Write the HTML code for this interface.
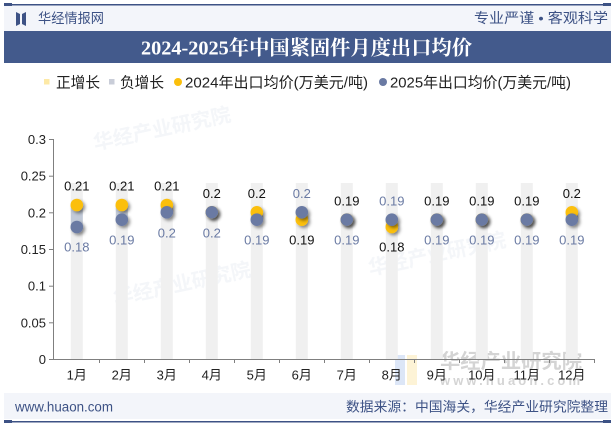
<!DOCTYPE html>
<html><head><meta charset="utf-8">
<style>
html,body{margin:0;padding:0;background:#fff;}
body{width:615px;height:427px;overflow:hidden;position:relative;font-family:"Liberation Sans","Noto Sans CJK SC",sans-serif;}
svg{position:absolute;left:0;top:0;}
</style></head><body>
<svg width="615" height="427" viewBox="0 0 615 427" xmlns="http://www.w3.org/2000/svg" font-family="Liberation Sans, Noto Sans CJK SC, sans-serif">
<defs>
<filter id="sh" x="-50%" y="-50%" width="200%" height="200%">
<feDropShadow dx="2" dy="2" stdDeviation="1.5" flood-color="#000" flood-opacity="0.45"/>
</filter>
</defs>
<!-- header -->
<rect x="4" y="4" width="607" height="27" fill="#f3f5fa"/>
<rect x="4" y="4" width="607" height="1.5" fill="#3d5285"/>
<rect x="4" y="3" width="8" height="3" fill="#3d5285"/>
<rect x="603" y="3" width="8" height="3" fill="#3d5285"/>
<path d="M16 12 L20 14 L20 24 L16 26 Z M26 12 L22 14 L22 24 L26 26 Z" fill="#3d5285"/>
<text x="38" y="23" font-size="13.5" fill="#3d5285" textLength="66" lengthAdjust="spacingAndGlyphs">华经情报网</text>
<text x="474" y="23" font-size="14" fill="#3d5285" textLength="134" lengthAdjust="spacingAndGlyphs">专业严谨 • 客观科学</text>
<rect x="4" y="31" width="607" height="32" fill="#435a8c"/>
<text x="141" y="54.5" font-size="20" font-weight="bold" fill="#fff" textLength="331" lengthAdjust="spacingAndGlyphs" font-family="Liberation Serif, Noto Serif CJK SC, serif">2024-2025年中国紧固件月度出口均价</text>
<!-- legend -->
<rect x="44" y="79" width="5.5" height="5.5" fill="#fde9a6"/>
<text x="56" y="87.5" font-size="15" fill="#222" textLength="44" lengthAdjust="spacingAndGlyphs">正增长</text>
<rect x="109" y="79" width="5.5" height="5.5" fill="#c9cdd8"/>
<text x="120" y="87.5" font-size="15" fill="#222" textLength="44" lengthAdjust="spacingAndGlyphs">负增长</text>
<circle cx="178" cy="82" r="4" fill="#fbbf0b"/>
<text x="185" y="87.5" font-size="15" fill="#222" textLength="183" lengthAdjust="spacingAndGlyphs">2024年出口均价(万美元/吨)</text>
<circle cx="383" cy="82" r="4" fill="#6a7aa3"/>
<text x="390" y="87.5" font-size="15" fill="#222" textLength="181" lengthAdjust="spacingAndGlyphs">2025年出口均价(万美元/吨)</text>
<!-- watermarks -->
<g opacity="0.5">
<text x="95" y="150" font-size="20" font-weight="bold" fill="#e8ecf2" transform="rotate(-12 95 150)">华经产业研究院</text>
<text x="115" y="305" font-size="20" font-weight="bold" fill="#e8ecf2" transform="rotate(-12 115 305)">华经产业研究院</text>
<text x="370" y="275" font-size="20" font-weight="bold" fill="#e8ecf2" transform="rotate(-12 370 275)">华经产业研究院</text>
</g>
<rect x="395" y="355" width="10" height="30" fill="#dce6f7"/>
<rect x="407" y="355" width="10" height="30" fill="#fdf3d6"/>
<text x="440" y="368" font-size="20" font-weight="bold" fill="#d4d4d4" textLength="142" lengthAdjust="spacingAndGlyphs">华经产业研究院</text>
<text x="440" y="385" font-size="13" font-weight="bold" fill="#d4d4d4" textLength="140" lengthAdjust="spacing">www.huaon.com</text>
<!-- background bars -->
<g fill="#f0f0f0">
<rect x="70.8" y="183" width="12" height="176"/>
<rect x="115.8" y="183" width="12" height="176"/>
<rect x="160.8" y="183" width="12" height="176"/>
<rect x="205.8" y="183" width="12" height="176"/>
<rect x="250.8" y="183" width="12" height="176"/>
<rect x="295.8" y="183" width="12" height="176"/>
<rect x="340.8" y="183" width="12" height="176"/>
<rect x="385.8" y="183" width="12" height="176"/>
<rect x="430.8" y="183" width="12" height="176"/>
<rect x="475.8" y="183" width="12" height="176"/>
<rect x="520.8" y="183" width="12" height="176"/>
<rect x="565.8" y="183" width="12" height="176"/>
</g>
<!-- range bars -->
<rect x="70.8" y="205" width="12" height="22" fill="#c2cad8"/>
<rect x="115.8" y="205" width="12" height="14.7" fill="#c2cad8"/>
<rect x="160.8" y="205" width="12" height="7.3" fill="#c2cad8"/>
<rect x="250.8" y="212.3" width="12" height="7.4" fill="#c2cad8"/>
<rect x="295.8" y="212.3" width="12" height="7.4" fill="#fde9a6"/>
<rect x="385.8" y="219.7" width="12" height="7.3" fill="#fde9a6"/>
<rect x="565.8" y="212.3" width="12" height="7.4" fill="#c2cad8"/>
<!-- axes -->
<g stroke="#7f7f7f" stroke-width="1" fill="none">
<line x1="53.5" y1="139" x2="53.5" y2="359"/>
<line x1="53" y1="359.5" x2="595" y2="359.5"/>
<line x1="49" y1="139.5" x2="53" y2="139.5"/>
<line x1="49" y1="176.2" x2="53" y2="176.2"/>
<line x1="49" y1="212.8" x2="53" y2="212.8"/>
<line x1="49" y1="249.5" x2="53" y2="249.5"/>
<line x1="49" y1="286.2" x2="53" y2="286.2"/>
<line x1="49" y1="322.8" x2="53" y2="322.8"/>
<line x1="49" y1="359.5" x2="53" y2="359.5"/>
<line x1="99.5" y1="359" x2="99.5" y2="363"/>
<line x1="144.5" y1="359" x2="144.5" y2="363"/>
<line x1="189.5" y1="359" x2="189.5" y2="363"/>
<line x1="234.5" y1="359" x2="234.5" y2="363"/>
<line x1="279.5" y1="359" x2="279.5" y2="363"/>
<line x1="324.5" y1="359" x2="324.5" y2="363"/>
<line x1="369.5" y1="359" x2="369.5" y2="363"/>
<line x1="414.5" y1="359" x2="414.5" y2="363"/>
<line x1="459.5" y1="359" x2="459.5" y2="363"/>
<line x1="504.5" y1="359" x2="504.5" y2="363"/>
<line x1="549.5" y1="359" x2="549.5" y2="363"/>
<line x1="594.5" y1="359" x2="594.5" y2="363"/>
</g>
<g font-size="13" fill="#222" text-anchor="end">
<text x="46" y="144">0.3</text>
<text x="46" y="180.7">0.25</text>
<text x="46" y="217.3">0.2</text>
<text x="46" y="254">0.15</text>
<text x="46" y="290.7">0.1</text>
<text x="46" y="327.3">0.05</text>
<text x="46" y="364">0</text>
</g>
<g font-size="13" fill="#222" text-anchor="middle">
<text x="76.8" y="379.5">1月</text>
<text x="121.8" y="379.5">2月</text>
<text x="166.8" y="379.5">3月</text>
<text x="211.8" y="379.5">4月</text>
<text x="256.8" y="379.5">5月</text>
<text x="301.8" y="379.5">6月</text>
<text x="346.8" y="379.5">7月</text>
<text x="391.8" y="379.5">8月</text>
<text x="436.8" y="379.5">9月</text>
<text x="481.8" y="379.5">10月</text>
<text x="526.8" y="379.5">11月</text>
<text x="571.8" y="379.5">12月</text>
</g>
<!-- dots -->
<g filter="url(#sh)">
<circle cx="76.8" cy="205" r="6.3" fill="#fbbf0b"/>
<circle cx="121.8" cy="205" r="6.3" fill="#fbbf0b"/>
<circle cx="166.8" cy="205" r="6.3" fill="#fbbf0b"/>
<circle cx="211.8" cy="212.3" r="6.3" fill="#fbbf0b"/>
<circle cx="256.8" cy="212.3" r="6.3" fill="#fbbf0b"/>
<circle cx="301.8" cy="219.7" r="6.3" fill="#fbbf0b"/>
<circle cx="346.8" cy="219.7" r="6.3" fill="#fbbf0b"/>
<circle cx="391.8" cy="227" r="6.3" fill="#fbbf0b"/>
<circle cx="436.8" cy="219.7" r="6.3" fill="#fbbf0b"/>
<circle cx="481.8" cy="219.7" r="6.3" fill="#fbbf0b"/>
<circle cx="526.8" cy="219.7" r="6.3" fill="#fbbf0b"/>
<circle cx="571.8" cy="212.3" r="6.3" fill="#fbbf0b"/>
</g>
<g filter="url(#sh)">
<circle cx="76.8" cy="227" r="6.3" fill="#6a7aa3"/>
<circle cx="121.8" cy="219.7" r="6.3" fill="#6a7aa3"/>
<circle cx="166.8" cy="212.3" r="6.3" fill="#6a7aa3"/>
<circle cx="211.8" cy="212.3" r="6.3" fill="#6a7aa3"/>
<circle cx="256.8" cy="219.7" r="6.3" fill="#6a7aa3"/>
<circle cx="301.8" cy="212.3" r="6.3" fill="#6a7aa3"/>
<circle cx="346.8" cy="219.7" r="6.3" fill="#6a7aa3"/>
<circle cx="391.8" cy="219.7" r="6.3" fill="#6a7aa3"/>
<circle cx="436.8" cy="219.7" r="6.3" fill="#6a7aa3"/>
<circle cx="481.8" cy="219.7" r="6.3" fill="#6a7aa3"/>
<circle cx="526.8" cy="219.7" r="6.3" fill="#6a7aa3"/>
<circle cx="571.8" cy="219.7" r="6.3" fill="#6a7aa3"/>
</g>
<!-- value labels -->
<g font-size="13" text-anchor="middle">
<text x="76.8" y="190.5" fill="#111">0.21</text>
<text x="76.8" y="251.5" fill="#6a7aa3">0.18</text>
<text x="121.8" y="190.5" fill="#111">0.21</text>
<text x="121.8" y="244.5" fill="#6a7aa3">0.19</text>
<text x="166.8" y="190.5" fill="#111">0.21</text>
<text x="166.8" y="237.5" fill="#6a7aa3">0.2</text>
<text x="211.8" y="198" fill="#111">0.2</text>
<text x="211.8" y="237.5" fill="#6a7aa3">0.2</text>
<text x="256.8" y="198" fill="#111">0.2</text>
<text x="256.8" y="244.5" fill="#6a7aa3">0.19</text>
<text x="301.8" y="198" fill="#6a7aa3">0.2</text>
<text x="301.8" y="244.5" fill="#111">0.19</text>
<text x="346.8" y="205.5" fill="#111">0.19</text>
<text x="346.8" y="244.5" fill="#6a7aa3">0.19</text>
<text x="391.8" y="205.5" fill="#6a7aa3">0.19</text>
<text x="391.8" y="251.5" fill="#111">0.18</text>
<text x="436.8" y="205.5" fill="#111">0.19</text>
<text x="436.8" y="244.5" fill="#6a7aa3">0.19</text>
<text x="481.8" y="205.5" fill="#111">0.19</text>
<text x="481.8" y="244.5" fill="#6a7aa3">0.19</text>
<text x="526.8" y="205.5" fill="#111">0.19</text>
<text x="526.8" y="244.5" fill="#6a7aa3">0.19</text>
<text x="571.8" y="198" fill="#111">0.2</text>
<text x="571.8" y="244.5" fill="#6a7aa3">0.19</text>
</g>
<!-- footer -->
<rect x="4" y="393" width="607" height="26" fill="#f3f5fa"/>
<text x="15" y="411.5" font-size="13.5" fill="#3d5285" textLength="98" lengthAdjust="spacingAndGlyphs">www.huaon.com</text>
<text x="346" y="411.5" font-size="13.5" fill="#3d5285" textLength="262" lengthAdjust="spacingAndGlyphs">数据来源：中国海关，华经产业研究院整理</text>
<rect x="4" y="421" width="607" height="1.5" fill="#3d5285"/>
<rect x="4" y="420" width="8" height="3" fill="#3d5285"/>
<rect x="603" y="420" width="8" height="3" fill="#3d5285"/>
</svg>
</body></html>
